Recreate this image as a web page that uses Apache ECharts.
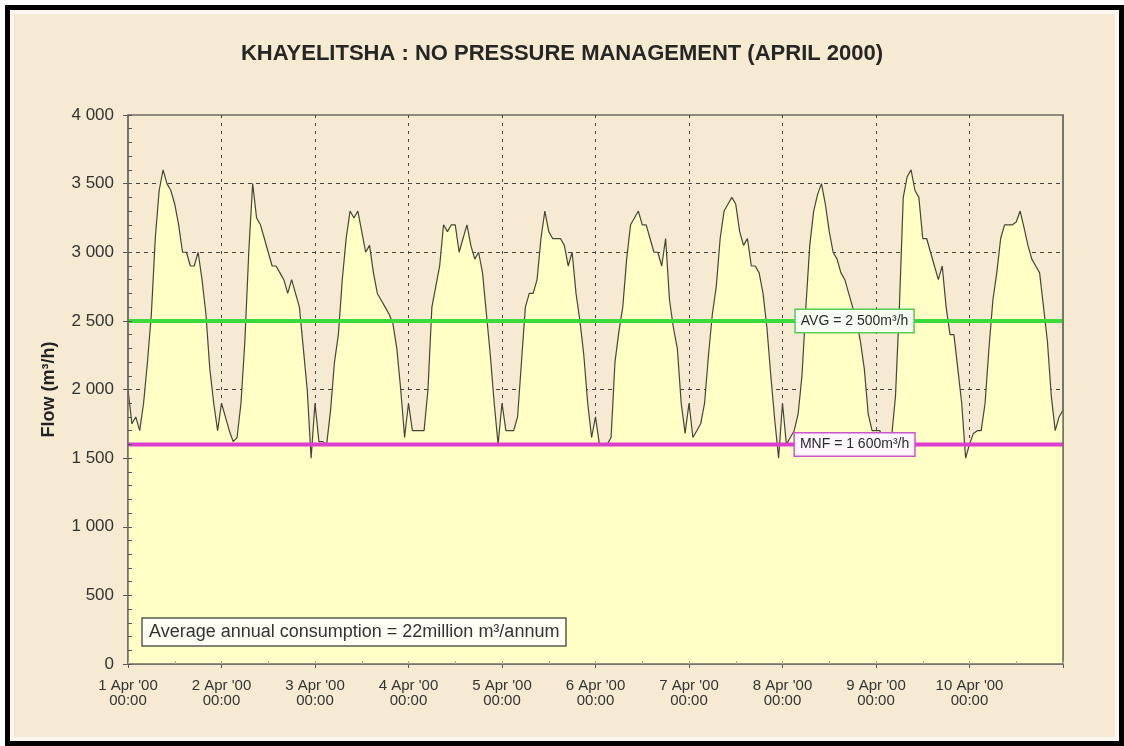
<!DOCTYPE html>
<html><head><meta charset="utf-8">
<script src="https://cdn.jsdelivr.net/npm/echarts@6/dist/echarts.min.js"></script>
<style>
html,body{margin:0;padding:0;background:#fff;width:1124px;height:746px;overflow:hidden}
#frame{position:absolute;left:5px;top:5px;width:1119px;height:741px;box-sizing:border-box;border:5px solid #000;background:#FBF7EE}
#paper{position:absolute;left:4px;top:4px;right:4px;bottom:4px;background:#F6EAD2}
#chart{position:absolute;left:0;top:0;width:1124px;height:746px}
</style></head><body>
<div id="frame"><div id="paper"></div></div>
<div id="chart"></div>
<script>
// ---- data (hourly flow, m3/h) ----
const apr01 = [2000,1750,1800,1700,1900,2200,2550,3100,3450,3600,3500,3450,3350,3200,3000,3000,2900,2900,3000,2800,2550,2150,1900,1700];
const apr02 = [1900,1800,1700,1620,1650,1900,2350,3000,3500,3250,3200,3100,3000,2900,2900,2850,2800,2700,2800,2700,2600,2300,2000,1500];
const apr03 = [1900,1620,1620,1600,1850,2200,2400,2800,3100,3300,3250,3300,3150,3000,3050,2850,2700,2650,2600,2550,2480,2300,2000,1650];
const apr04 = [1900,1700,1700,1700,1700,2000,2600,2750,2900,3200,3150,3200,3200,3000,3100,3200,3050,2950,3000,2850,2550,2250,1900,1600];
const apr05 = [1900,1700,1700,1700,1800,2200,2600,2700,2700,2800,3100,3300,3150,3100,3100,3100,3050,2900,3000,2700,2500,2250,1900,1650];
const apr06 = [1800,1600,1600,1600,1650,2200,2420,2600,2950,3200,3250,3300,3200,3200,3100,3000,3000,2900,3100,2650,2450,2300,1900,1680];
const apr07 = [1900,1650,1700,1750,1900,2250,2550,2750,3100,3300,3350,3400,3350,3150,3050,3100,2900,2900,2850,2700,2450,2100,1780,1500];
const apr08 = [1900,1600,1650,1700,1820,2100,2600,3050,3300,3420,3500,3350,3150,3000,2950,2850,2800,2700,2600,2500,2350,2150,1820,1700];
const apr09 = [1700,1700,1620,1600,1650,1950,2600,3400,3550,3600,3450,3400,3100,3100,3000,2900,2800,2900,2600,2400,2400,2150,1900,1500];
const apr10 = [1600,1680,1700,1700,1900,2300,2650,2850,3100,3200,3200,3200,3220,3300,3180,3050,2950,2900,2850,2600,2350,1950,1700,1800];
const endValue = 1850;          // reading at the right edge (11 Apr 00:00)
const avgValue = 2500;          // AVG line
const mnfValue = 1600;          // MNF line
const dayLabels = ["1 Apr '00","2 Apr '00","3 Apr '00","4 Apr '00","5 Apr '00","6 Apr '00","7 Apr '00","8 Apr '00","9 Apr '00","10 Apr '00"];
const timeLabel = "00:00";
const titleText = "KHAYELITSHA : NO PRESSURE MANAGEMENT (APRIL 2000)";
const noteText = "Average annual consumption = 22million m³/annum";
const yName = "Flow (m³/h)";

// ---- build ----
const days = [apr01,apr02,apr03,apr04,apr05,apr06,apr07,apr08,apr09,apr10];
const flow = [];
days.forEach((d,i)=>d.forEach((v,h)=>flow.push([i*24+h, v])));
const xMax = days.length*24;
flow.push([xMax, endValue]);

const FONT = '"Liberation Sans", Arial, sans-serif';
const fmtNum = v => v >= 1000 ? Math.floor(v/1000) + ' ' + String(v%1000).padStart(3,'0') : String(v);
const labelHour = 186.5;
const gridBox = {left:128, right:61, top:115, bottom:82};
const AXIS_COLOR = '#6e6e64';

function lineLabel(text, border, bg){
  return {show:true, position:'inside', formatter:text,
    fontFamily:FONT, fontSize:14, color:'#2a2a2a', backgroundColor:bg,
    borderColor:border, borderWidth:1.5, padding:[4,5], opacity:1};
}

const chart = echarts.init(document.getElementById('chart'), null, {renderer:'canvas'});
chart.setOption({
  animation:false,
  backgroundColor:'transparent',
  textStyle:{fontFamily:FONT},
  title:[
    {text:titleText, left:'center', top:38,
     textStyle:{fontFamily:FONT, fontSize:22, fontWeight:'bold', color:'#262626'}},
    {text:noteText, left:142, top:618, padding:[5,7],
     backgroundColor:'#FFFFF6', borderColor:'#5a5a52', borderWidth:1.5,
     textStyle:{fontFamily:FONT, fontSize:18, fontWeight:'normal', color:'#333'}}
  ],
  grid:[
    Object.assign({show:true, backgroundColor:'transparent', borderColor:AXIS_COLOR, borderWidth:1.5}, gridBox),
    Object.assign({show:false}, gridBox)
  ],
  xAxis:[
    {type:'value', gridIndex:0, min:0, max:xMax, interval:24, position:'bottom',
     axisLine:{show:false},
     axisTick:{show:true, length:4, lineStyle:{color:'#555'}},
     axisLabel:{formatter:v=>{const i=Math.round(v/24); return i<dayLabels.length ? dayLabels[i]+'\n'+timeLabel : '';},
       fontFamily:FONT, fontSize:15, lineHeight:15, color:'#333', margin:14},
     splitLine:{show:true, showMinLine:false, showMaxLine:false, lineStyle:{color:'#444', type:[3,5], width:1}}},
    {type:'value', gridIndex:1, min:0, max:xMax, interval:12, position:'bottom', z:6,
     axisLine:{show:true, lineStyle:{color:AXIS_COLOR, width:1.5}},
     axisTick:{show:true, inside:true, length:3, lineStyle:{color:'#b0ad9c'}},
     axisLabel:{show:false}, splitLine:{show:false}}
  ],
  yAxis:[
    {type:'value', gridIndex:0, min:0, max:4000, interval:500, position:'left',
     name:yName, nameLocation:'middle', nameGap:70, nameRotate:90,
     nameTextStyle:{fontFamily:FONT, fontSize:18, fontWeight:'bold', color:'#222'},
     axisLine:{show:false},
     axisTick:{show:true, length:5, lineStyle:{color:'#555'}},
     axisLabel:{formatter:fmtNum, fontFamily:FONT, fontSize:17, color:'#333', margin:14},
     splitLine:{show:true, showMinLine:false, showMaxLine:false, lineStyle:{color:'#444', type:[4,4], width:1}}},
    {type:'value', gridIndex:0, min:0, max:4000, interval:500, position:'right', z:6,
     axisLine:{show:true, lineStyle:{color:AXIS_COLOR, width:1.5}},
     axisTick:{show:false}, axisLabel:{show:false}, splitLine:{show:false}},
    {type:'value', gridIndex:1, min:0, max:4000, interval:100, position:'left', z:6,
     axisLine:{show:true, lineStyle:{color:AXIS_COLOR, width:1.5}},
     axisTick:{show:true, inside:true, length:4, lineStyle:{color:'#555'}},
     axisLabel:{show:false}, splitLine:{show:false}}
  ],
  series:[
    {type:'line', name:'Flow', xAxisIndex:0, yAxisIndex:0, data:flow, symbol:'none', z:2,
     lineStyle:{color:'#45453a', width:1.2},
     areaStyle:{color:'#FFFFC6', opacity:1}},
    {type:'line', name:'AVG', xAxisIndex:0, yAxisIndex:0, data:[[0,avgValue],[xMax,avgValue]], symbol:'none', z:4, silent:true,
     lineStyle:{color:'#3ADB3A', width:4}},
    {type:'line', name:'MNF', xAxisIndex:0, yAxisIndex:0, data:[[0,mnfValue],[xMax,mnfValue]], symbol:'none', z:4, silent:true,
     lineStyle:{color:'#DC3FCF', width:4}},
    {type:'scatter', name:'AVG label', xAxisIndex:0, yAxisIndex:0, z:10, silent:true,
     symbol:'rect', symbolSize:1, itemStyle:{color:'rgba(0,0,0,0)', opacity:1},
     label:lineLabel('AVG = '+fmtNum(avgValue)+'m³/h', '#55CC55', '#F8FFF2'),
     data:[[labelHour, avgValue]]},
    {type:'scatter', name:'MNF label', xAxisIndex:0, yAxisIndex:0, z:10, silent:true,
     symbol:'rect', symbolSize:1, itemStyle:{color:'rgba(0,0,0,0)', opacity:1},
     label:lineLabel('MNF = '+fmtNum(mnfValue)+'m³/h', '#CC55CC', '#FFF6FF'),
     data:[[labelHour, mnfValue]]}
  ]
});
</script>
</body></html>
